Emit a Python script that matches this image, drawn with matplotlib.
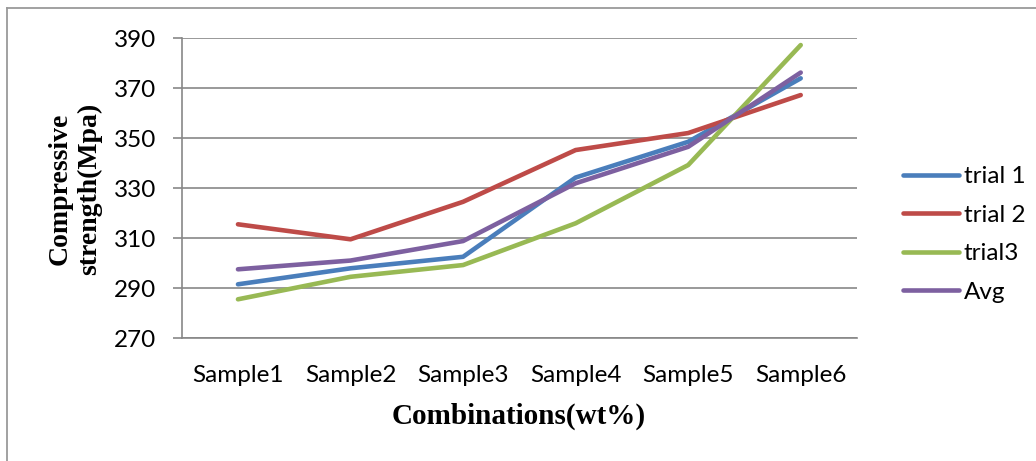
import matplotlib
matplotlib.use('Agg')
import matplotlib.pyplot as plt
from matplotlib.lines import Line2D
import numpy as np

samples = ['Sample1', 'Sample2', 'Sample3', 'Sample4', 'Sample5', 'Sample6']
trial1 = [291.6, 298.0, 302.6, 334.3, 348.6, 374.0]
trial2 = [315.6, 309.6, 324.6, 345.3, 352.1, 367.3]
trial3 = [285.6, 294.6, 299.3, 316.0, 339.3, 387.3]
avg = [297.6, 301.1, 308.9, 332.0, 346.6, 376.3]
series_names = ['trial 1', 'trial 2', 'trial3', 'Avg']
yticks = [270, 290, 310, 330, 350, 370, 390]

colors = ['#4A7EBB', '#BE4B48', '#98B954', '#7D60A0']

W, H = 1036, 461
fig = plt.figure(figsize=(W / 100, H / 100), dpi=100)
ax = fig.add_axes([181.7 / W, 1 - 338.3 / H, (857 - 181.7) / W, 300 / H])

x = np.arange(1, len(samples) + 1)
for vals, name, c in zip([trial1, trial2, trial3, avg], series_names, colors):
    ax.plot(x, vals, color=c, lw=3.3, solid_capstyle='round', label=name, zorder=3)

grid_c = '#878787'
ax.set_xlim(0.5, len(samples) + 0.5)
ax.set_ylim(270, 390)
ax.set_yticks(yticks)
ax.set_xticks(x)
ax.set_xticklabels(samples)
ax.yaxis.grid(True, color=grid_c, lw=1.2, zorder=0)
for s in ['top', 'right']:
    ax.spines[s].set_visible(False)
for s in ['left', 'bottom']:
    ax.spines[s].set_color(grid_c)
    ax.spines[s].set_linewidth(1.2)
ax.tick_params(axis='y', length=6.5, width=1.2, color=grid_c, pad=12,
               labelsize=17.5, labelfontfamily='Lato')
ax.tick_params(axis='x', length=0, pad=19, labelsize=17.5, labelfontfamily='Lato')

fig.text(519 / W, 1 - 416 / H, 'Combinations(wt%)', ha='center', va='center',
         family='Liberation Serif', fontweight='bold', fontsize=21)
fig.text(75 / W, 1 - 189 / H, 'Compressive\nstrength(Mpa)', ha='center', va='center',
         rotation=90, family='Liberation Serif', fontweight='bold', fontsize=20,
         linespacing=1.25)

fig.legend(loc='center left', bbox_to_anchor=(903 / W, 1 - 234.5 / H),
           frameon=False, borderpad=0, borderaxespad=0, handlelength=2.3,
           handletextpad=0.2, labelspacing=0.72,
           prop={'family': 'Lato', 'size': 17.5})

# outer chart border (top and left edges only fall inside the image)
fig.add_artist(Line2D([7 / W, 1.0], [1 - 8 / H, 1 - 8 / H], color='#9a9a9a', lw=1.3,
                      transform=fig.transFigure))
fig.add_artist(Line2D([7 / W, 7 / W], [0.0, 1 - 8 / H], color='#9a9a9a', lw=1.3,
                      transform=fig.transFigure))

fig.savefig('out.png', dpi=100)
